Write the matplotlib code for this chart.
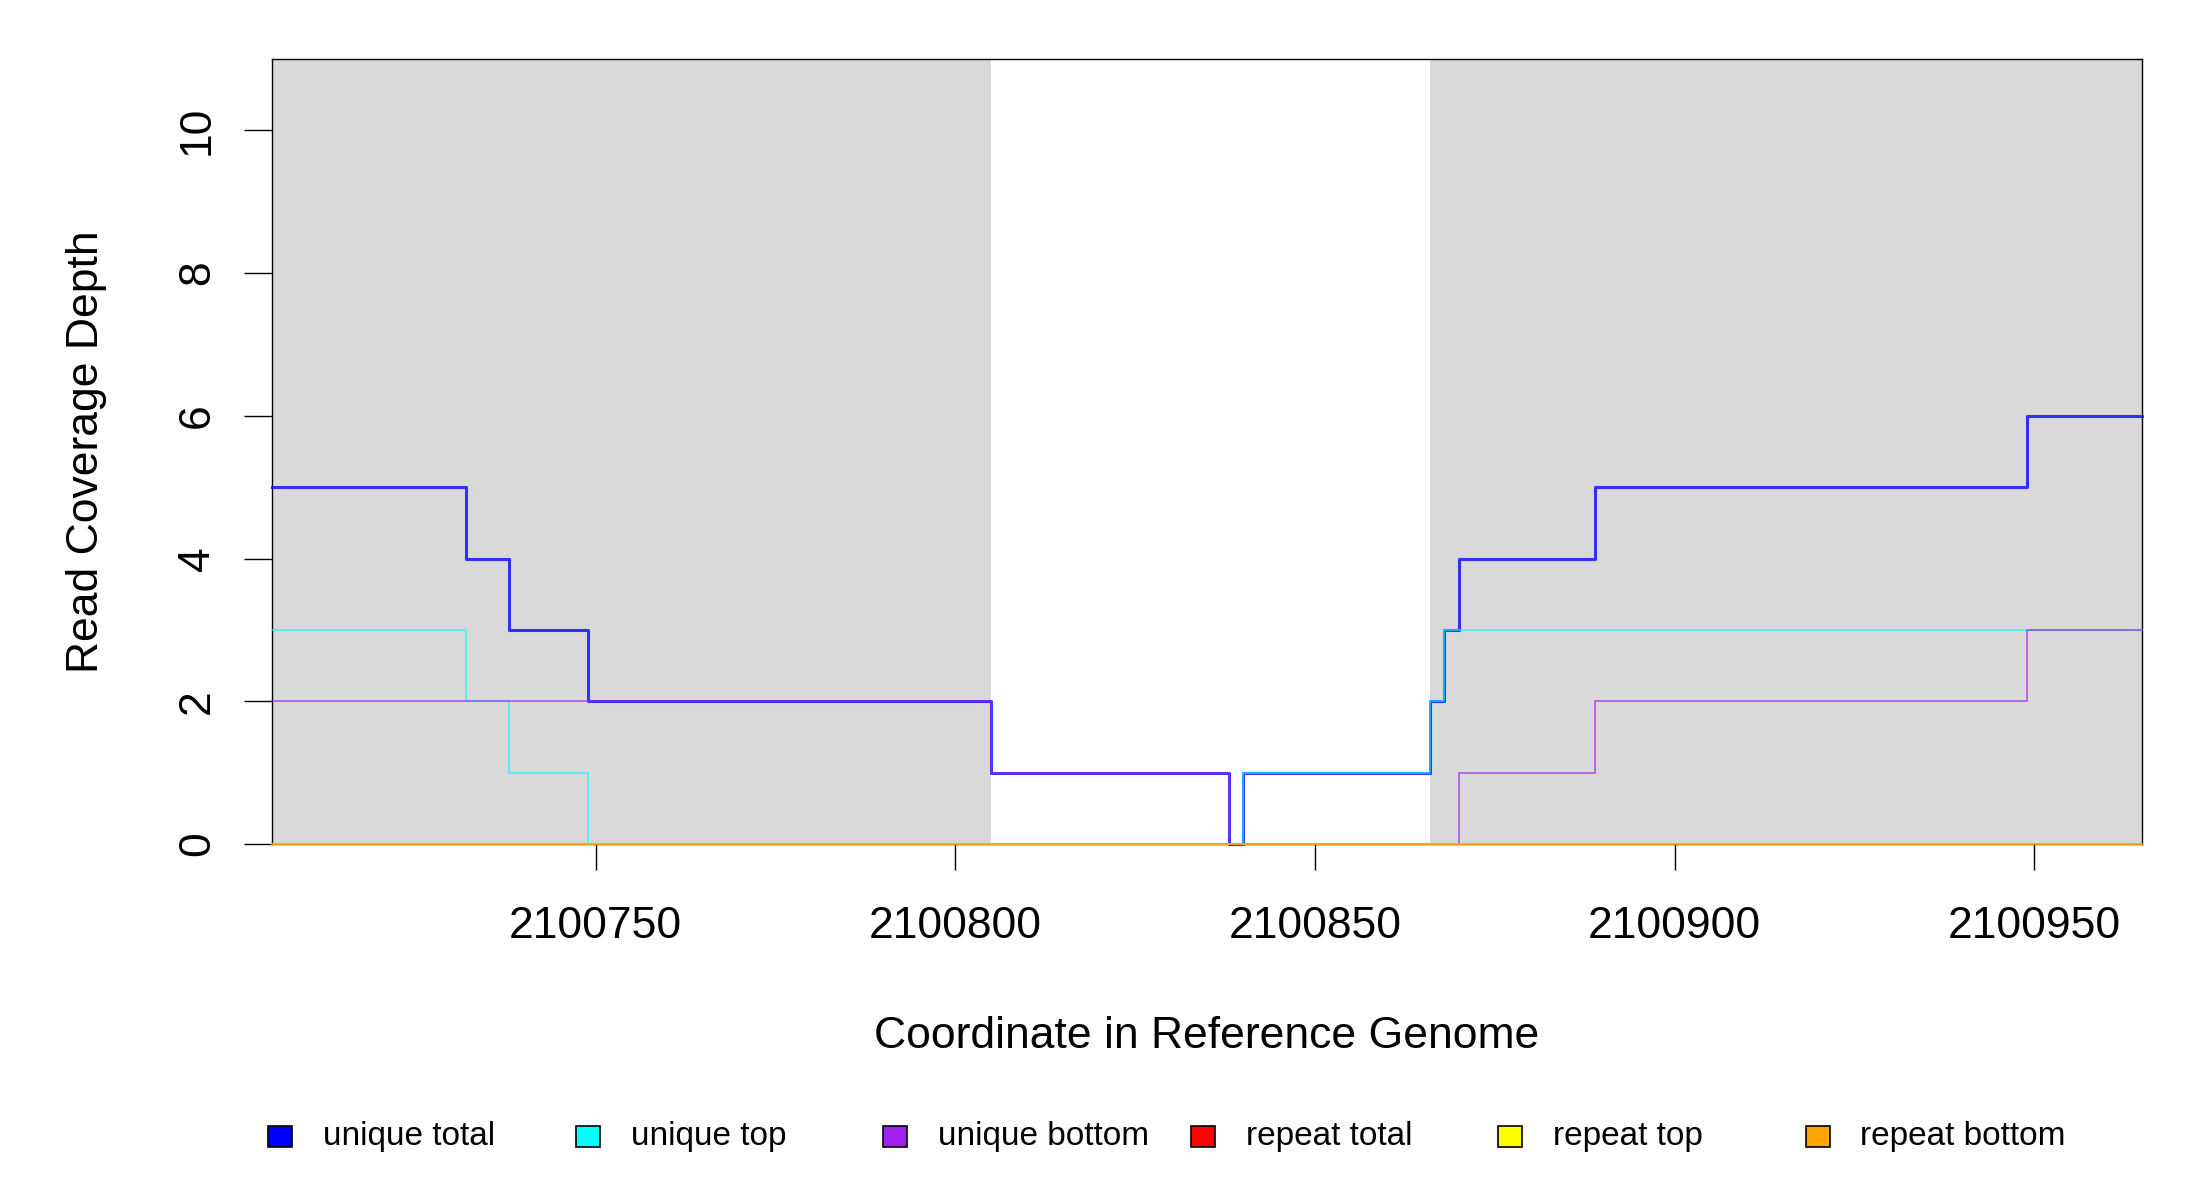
import matplotlib
matplotlib.use("Agg")
import matplotlib.pyplot as plt
from matplotlib.patches import Rectangle

plt.rcParams['font.family'] = ['Liberation Sans', 'DejaVu Sans']

# step data (value holds from x[i] until x[i+1])
uniq_total_x = [2100705, 2100732, 2100738, 2100749, 2100805, 2100838, 2100840,
                2100866, 2100868, 2100870, 2100889, 2100949, 2100965]
uniq_total_y = [5, 4, 3, 2, 1, 0, 1, 2, 3, 4, 5, 6, 6]

uniq_top_x = [2100705, 2100732, 2100738, 2100749, 2100840, 2100866, 2100868, 2100965]
uniq_top_y = [3, 2, 1, 0, 1, 2, 3, 3]

uniq_bot_x = [2100705, 2100805, 2100838, 2100870, 2100889, 2100949, 2100965]
uniq_bot_y = [2, 1, 0, 1, 2, 3, 3]

rep_x = [2100705, 2100965]
rep_total_y = [0, 0]
rep_top_y = [0, 0]
rep_bot_y = [0, 0]

# shaded regions
shade_regions = [(2100705, 2100805), (2100866, 2100965)]

x_lim = (2100705, 2100965)
x_ticks = [2100750, 2100800, 2100850, 2100900, 2100950]
y_ticks = [0, 2, 4, 6, 8, 10]

legend_labels = ["unique total", "unique top", "unique bottom",
                 "repeat total", "repeat top", "repeat bottom"]
legend_colors = ["#0000FF", "#00FFFF", "#A020F0", "#FF0000", "#FFFF00", "#FFA500"]

W, H = 2200, 1200
fig = plt.figure(figsize=(11, 6), dpi=200)
ax = fig.add_axes([272 / W, 1 - 844 / H, (2142 - 272) / W, (844 - 59) / H])

for a, b in shade_regions:
    ax.axvspan(a, b, color="#D9D9D9", lw=0, zorder=0)

for s in ax.spines.values():
    s.set_linewidth(0.5)
    s.set_zorder(1)

al = 0.78
series = [
    (uniq_total_x, uniq_total_y, legend_colors[0], 1.1),
    (uniq_top_x, uniq_top_y, legend_colors[1], 0.55),
    (uniq_bot_x, uniq_bot_y, legend_colors[2], 0.55),
    (rep_x, rep_total_y, legend_colors[3], 0.55),
    (rep_x, rep_top_y, legend_colors[4], 0.55),
    (rep_x, rep_bot_y, legend_colors[5], 0.55),
]
for i, (xs, ys, c, lw) in enumerate(series):
    ax.step(xs, ys, where="post", color=c, lw=lw, alpha=al, clip_on=False, zorder=3 + i)

ax.set_xlim(*x_lim)
ax.set_ylim(0, 11)
ax.set_xticks(x_ticks)
ax.set_xticklabels([str(t) for t in x_ticks])
ax.set_yticks(y_ticks)
ax.tick_params(axis="x", length=9.4, width=0.5, pad=13, labelsize=16)
ax.tick_params(axis="y", length=10, width=0.5, pad=9.5, labelsize=16, labelrotation=90)
for lab in ax.get_yticklabels():
    lab.set_va("center")

ax.set_xlabel("Coordinate in Reference Genome", fontsize=16, va="center")
ax.xaxis.set_label_coords(0.5, -(1036 - 844) / 785)
ax.set_ylabel("Read Coverage Depth", fontsize=16, va="center")
ax.yaxis.set_label_coords(-(272 - 87) / 1870, 0.5)

# legend row under the plot
leg_y = 1 - 1136 / H
for i, (lab, c) in enumerate(zip(legend_labels, legend_colors)):
    cx = 280 + i * 307.5
    fig.add_artist(Rectangle(((cx - 12) / W, leg_y - 10.5 / H), 24 / W, 21 / H,
                             transform=fig.transFigure, facecolor=c,
                             edgecolor="black", lw=0.6))
    fig.text((cx + 43) / W, leg_y, lab, fontsize=12, va="center", ha="left")

fig.savefig("out.png", dpi=200)
